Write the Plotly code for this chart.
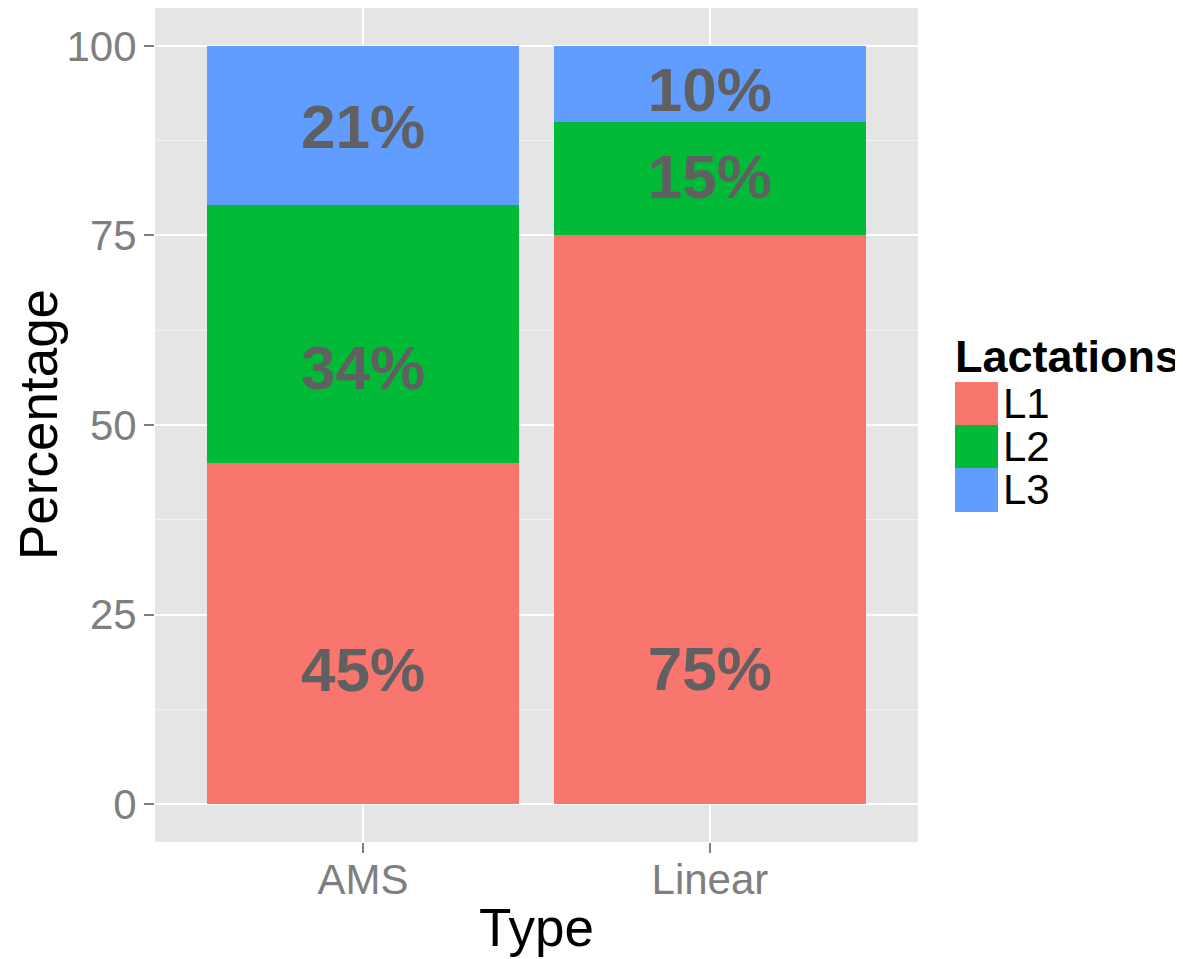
import plotly.graph_objects as go

types = ["AMS", "Linear"]
lactations = ["L1", "L2", "L3"]
values = {
    "L1": [45, 75],
    "L2": [34, 15],
    "L3": [21, 10],
}
colors = {"L1": "#F8766D", "L2": "#00BA38", "L3": "#619CFF"}
label_text = {
    "L1": ["45%", "75%"],
    "L2": ["34%", "15%"],
    "L3": ["21%", "10%"],
}
label_y = {
    "L1": [17.0, 17.1],
    "L2": [56.8, 82.0],
    "L3": [88.6, 93.5],
}
y_ticks = [0, 25, 50, 75, 100]

FONT = "Arial, Liberation Sans, sans-serif"

# the page places the figure 8px from the top-left corner
L, R, T, B = 147, 265, 0, 117
W, H = 1175, 951

fig = go.Figure()
for lac in lactations:
    fig.add_trace(go.Bar(
        x=types, y=values[lac], name=lac, width=0.9,
        marker=dict(color=colors[lac], line=dict(width=0)),
        showlegend=False, hoverinfo="skip",
    ))
for lac in lactations:
    fig.add_trace(go.Scatter(
        x=types, y=label_y[lac], mode="text", text=label_text[lac],
        textposition="middle center",
        textfont=dict(family=FONT, size=62, color="#606060", weight=700),
        showlegend=False, hoverinfo="skip",
    ))

fig.update_layout(
    width=W, height=H,
    barmode="stack",
    paper_bgcolor="white",
    plot_bgcolor="#E5E5E5",
    margin=dict(l=L, r=R, t=T, b=B, pad=0),
    font=dict(family=FONT),
    xaxis=dict(
        type="category", range=[-0.6, 1.6],
        showgrid=True, gridcolor="white", gridwidth=2,
        ticks="outside", ticklen=10, tickwidth=2, tickcolor="#7F7F7F",
        tickfont=dict(size=42, color="#7F7F7F"),
        ticklabelstandoff=-9,
        zeroline=False, showline=False,
    ),
    yaxis=dict(
        range=[-5, 105],
        tickvals=y_ticks,
        showgrid=True, gridcolor="white", gridwidth=2,
        minor=dict(showgrid=True, gridcolor="#F2F2F2", gridwidth=1, tickvals=[12.5, 37.5, 62.5, 87.5]),
        ticks="outside", ticklen=10, tickwidth=2, tickcolor="#7F7F7F",
        tickfont=dict(size=42, color="#7F7F7F"),
        ticklabelstandoff=-1,
        zeroline=False, showline=False,
    ),
)

pw = W - L - R
ph = H - T - B
def px_x(x):
    # x in screenshot pixels
    return (x - 8 - L) / pw
def px_y(y):
    return (8 + T + ph - y) / ph

# axis titles
fig.add_annotation(text="Type", xref="paper", yref="paper", x=0.5, y=px_y(927),
                   xanchor="center", yanchor="middle", showarrow=False,
                   font=dict(family=FONT, size=53, color="black"))
fig.add_annotation(text="Percentage", xref="paper", yref="paper", x=px_x(38), y=0.5,
                   xanchor="center", yanchor="middle", showarrow=False, textangle=-90,
                   font=dict(family=FONT, size=53, color="black"))

# custom legend (ggplot style)
fig.add_annotation(text="<b>Lactations</b>", xref="paper", yref="paper",
                   x=px_x(953), y=px_y(357), xanchor="left", yanchor="middle",
                   showarrow=False, font=dict(family=FONT, size=45, color="black"))
key_edges = [382, 425, 468, 512]
for i, lac in enumerate(lactations):
    fig.add_shape(type="rect", xref="paper", yref="paper",
                  x0=px_x(955), x1=px_x(998), y0=px_y(key_edges[i + 1]), y1=px_y(key_edges[i]),
                  fillcolor=colors[lac], line=dict(width=0), layer="above")
    fig.add_annotation(text=lac, xref="paper", yref="paper",
                       x=px_x(1001), y=px_y((key_edges[i] + key_edges[i + 1]) / 2),
                       xanchor="left", yanchor="middle", showarrow=False,
                       font=dict(family=FONT, size=42, color="black"))

fig.write_html("out.html")
